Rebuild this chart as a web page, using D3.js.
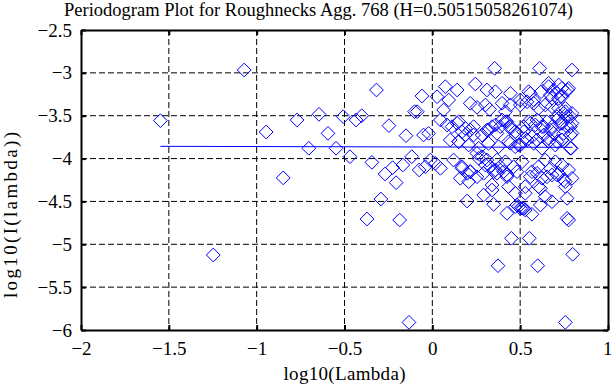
<!DOCTYPE html>
<html>
<head>
<meta charset="utf-8">
<script src="https://cdn.jsdelivr.net/npm/d3@7"></script>
<style>
body{margin:0;background:#fff}
text{font-family:"Liberation Serif","Times New Roman",serif}
</style>
</head>
<body>
<svg id="chart" width="611" height="385"></svg>
<script>
// periodogram points: [log10(lambda), log10(I(lambda))]
var periodogram = [
 [-1.548,-3.558],[-1.247,-5.125],[-1.071,-2.967],[-0.946,-3.690],[-0.849,-4.225],[-0.770,-3.550],[-0.703,-3.880],[-0.645,-3.484],
 [-0.594,-3.706],[-0.548,-3.880],[-0.507,-3.511],[-0.469,-3.978],[-0.434,-3.550],[-0.402,-3.500],[-0.372,-4.705],[-0.344,-4.044],
 [-0.318,-3.200],[-0.293,-4.472],[-0.269,-4.180],[-0.247,-3.616],[-0.226,-4.106],[-0.206,-4.281],[-0.186,-4.717],[-0.168,-4.075],
 [-0.150,-3.733],[-0.133,-5.911],[-0.117,-3.978],[-0.101,-3.453],[-0.086,-3.453],
 [-0.059,-3.270],[-0.050,-3.725],[-0.021,-3.706],[-0.040,-4.095],[-0.011,-4.017],[0.017,-4.056],[0.046,-4.114],[-0.075,-4.133],
 [0.027,-3.278],[0.074,-3.161],[0.093,-3.317],[0.064,-3.433],[0.046,-3.550],[0.084,-3.608],[0.112,-3.628],[0.141,-3.588],
 [0.102,-3.783],[0.150,-3.803],[0.141,-3.200],[0.121,-4.017],[0.169,-4.095],[0.198,-4.172],[0.216,-4.153],
 [0.169,-3.687],[0.188,-3.725],[0.216,-3.667],[0.235,-3.725],
 [0.245,-3.130],[0.311,-3.200],[0.359,-3.220],[0.444,-3.239],[0.548,-3.220],[0.662,-3.122],[0.719,-3.142],[0.770,-3.200],[0.619,-3.220],
 [0.355,-2.947],[0.611,-2.947],[0.795,-2.967],
 [0.216,-3.355],[0.254,-3.402],[0.302,-3.375],[0.326,-3.426],[0.416,-3.453],[0.501,-3.317],[0.577,-3.317],[0.672,-3.258],[0.738,-3.278],[0.757,-3.414],
 [0.311,-3.667],[0.340,-3.628],[0.368,-3.706],[0.397,-3.550],[0.425,-3.570],[0.444,-3.628],
 [0.472,-3.687],[0.520,-3.628],[0.558,-3.589],[0.596,-3.550],[0.634,-3.628],[0.672,-3.667],
 [0.710,-3.511],[0.748,-3.472],[0.786,-3.511],[0.729,-3.589],[0.767,-3.628],[0.795,-3.589],[0.748,-3.706],[0.786,-3.725],
 [0.444,-3.822],[0.472,-3.862],[0.501,-3.842],[0.539,-3.783],[0.567,-3.745],[0.596,-3.783],
 [0.634,-3.725],[0.662,-3.764],[0.691,-3.706],[0.710,-3.803],[0.738,-3.783],[0.790,-3.880],
 [0.254,-3.939],[0.283,-3.978],[0.311,-4.017],[0.330,-4.095],[0.349,-4.153],[0.368,-4.017],[0.387,-4.095],[0.406,-4.153],[0.425,-4.192],
 [0.558,-3.239],[0.662,-3.161],[0.691,-3.200],[0.710,-3.239],[0.738,-3.180],[0.757,-3.220],[0.776,-3.180],[0.681,-3.297],[0.719,-3.297],
 [0.397,-3.355],[0.444,-3.375],[0.501,-3.375],[0.539,-3.337],[0.577,-3.355],[0.605,-3.414],[0.643,-3.375],[0.681,-3.395],[0.719,-3.414],[0.757,-3.453],[0.795,-3.472],
 [0.150,-3.570],[0.188,-3.647],[0.235,-3.628],[0.283,-3.725],[0.320,-3.667],[0.359,-3.608],[0.387,-3.628],[0.416,-3.570],[0.444,-3.647],[0.482,-3.706],
 [0.520,-3.687],[0.548,-3.570],[0.586,-3.608],[0.624,-3.628],[0.653,-3.570],[0.681,-3.628],[0.719,-3.530],[0.738,-3.589],[0.767,-3.511],[0.786,-3.628],[0.795,-3.706],
 [0.150,-3.803],[0.207,-3.842],[0.264,-3.880],[0.320,-3.822],[0.377,-3.862],[0.434,-3.803],[0.491,-3.842],[0.529,-3.764],[0.577,-3.822],[0.624,-3.880],
 [0.662,-3.803],[0.700,-3.842],[0.738,-3.783],[0.786,-3.880],
 [0.169,-4.114],[0.216,-4.153],[0.264,-3.997],[0.302,-4.075],[0.359,-4.133],[0.416,-4.037],[0.463,-4.095],[0.511,-4.037],[0.567,-4.153],[0.605,-4.095],
 [0.643,-4.017],[0.672,-4.114],[0.700,-4.037],[0.738,-4.075],[0.776,-4.133],[0.624,-4.230],[0.681,-4.192],[0.719,-4.172],[0.757,-4.270],[0.207,-4.270],
 [0.340,-4.308],[0.434,-4.328],[0.529,-4.328],[0.605,-4.328],
 [0.159,-4.230],[0.254,-4.212],[0.292,-4.172],[0.368,-4.172],[0.425,-4.212],[0.482,-4.153],[0.558,-4.212],[0.596,-4.172],[0.653,-4.212],[0.710,-4.192],
 [0.748,-4.250],[0.795,-4.230],
 [0.198,-4.495],[0.292,-4.425],[0.340,-4.367],[0.349,-4.534],[0.425,-4.639],[0.472,-4.405],[0.529,-4.405],[0.472,-4.561],[0.501,-4.580],[0.520,-4.580],
 [0.567,-4.650],[0.615,-4.347],[0.643,-4.445],[0.615,-4.542],[0.681,-4.503],[0.767,-4.464],[0.757,-4.328],[0.767,-4.697],[0.776,-4.717],
 [0.491,-4.561],[0.511,-4.580],[0.529,-4.600],[0.482,-4.542],
 [0.450,-4.930],[0.552,-4.930],[0.799,-5.117],[0.374,-5.250],[0.600,-5.250],[0.757,-5.911]
];

// fitted line ends
var fitX = [-1.548, 0.798];
var fitY = [-3.857, -3.869];

var xTicks = [-2, -1.5, -1, -0.5, 0, 0.5, 1];
var yTicks = [-6, -5.5, -5, -4.5, -4, -3.5, -3, -2.5];

var titleText = "Periodogram Plot for Roughnecks Agg. 768 (H=0.50515058261074)";
var xLabel = "log10(Lambda)";
var yLabel = "log10(I(lambda))";

var margin = {top: 30, right: 3, bottom: 55, left: 81};
var W = 611, H = 385;
var w = W - margin.left - margin.right;
var h = H - margin.top - margin.bottom;

var svg = d3.select('#chart');
svg.append('rect').attr('width', W).attr('height', H).attr('fill', '#fff');

var g = svg.append('g').attr('transform', 'translate(' + margin.left + ',' + margin.top + ')');

var x = d3.scaleLinear().domain([-2, 1]).range([0, w]);
var y = d3.scaleLinear().domain([-6, -2.5]).range([h, 0]);

// dashed grid
g.selectAll('.vgrid').data(xTicks.slice(1, -1)).enter().append('line')
  .attr('x1', function(d){ return x(d); }).attr('x2', function(d){ return x(d); })
  .attr('y1', 0).attr('y2', h)
  .attr('stroke', '#000').attr('stroke-width', 1).attr('stroke-dasharray', '6,3');
g.selectAll('.hgrid').data(yTicks.slice(1, -1)).enter().append('line')
  .attr('y1', function(d){ return y(d); }).attr('y2', function(d){ return y(d); })
  .attr('x1', 0).attr('x2', w)
  .attr('stroke', '#000').attr('stroke-width', 1).attr('stroke-dasharray', '6,3');

// diamonds
var sym = d3.symbol().type(d3.symbolDiamond2).size(120);
g.selectAll('.pt').data(periodogram).enter().append('path')
  .attr('d', sym)
  .attr('transform', function(d){ return 'translate(' + x(d[0]) + ',' + y(d[1]) + ')'; })
  .attr('fill', 'none').attr('stroke', '#0000ff').attr('stroke-width', 1);

// fitted line
g.append('line')
  .attr('x1', x(fitX[0])).attr('y1', y(fitY[0]))
  .attr('x2', x(fitX[1])).attr('y2', y(fitY[1]))
  .attr('stroke', '#0000ff').attr('stroke-width', 1);

// axes (ticks point inward)
var fmt = function(d){ return d3.format('')(d).replace('-', '\u2212'); };
var axB = g.append('g').attr('transform', 'translate(0,' + h + ')')
  .call(d3.axisBottom(x).tickValues(xTicks).tickSizeInner(-5).tickSizeOuter(0).tickPadding(12).tickFormat(fmt));
var axL = g.append('g')
  .call(d3.axisLeft(y).tickValues(yTicks).tickSizeInner(-5).tickSizeOuter(0).tickPadding(9).tickFormat(fmt));
var axT = g.append('g')
  .call(d3.axisTop(x).tickValues(xTicks).tickSizeInner(-5).tickSizeOuter(0).tickFormat(''));
var axR = g.append('g').attr('transform', 'translate(' + w + ',0)')
  .call(d3.axisRight(y).tickValues(yTicks).tickSizeInner(-5).tickSizeOuter(0).tickFormat(''));

[axB, axL, axT, axR].forEach(function(a){
  a.selectAll('path').attr('stroke', '#000').attr('stroke-width', 2);
  a.selectAll('line').attr('stroke', '#000').attr('stroke-width', 2);
  a.selectAll('text').attr('fill', '#000').style('font-size', '19px')
    .style('font-family', '"Liberation Serif", serif');
});
// keep the last x tick label inside the window
axB.selectAll('.tick text').filter(function(d){ return d === 1; }).attr('text-anchor', 'end').attr('dx', '4');

// labels
svg.append('text').attr('x', 64).attr('y', 16)
  .style('font-size', '18.5px').attr('fill', '#000').text(titleText);
svg.append('text').attr('x', margin.left + w / 2).attr('y', 380)
  .attr('text-anchor', 'middle').style('font-size', '19px').attr('fill', '#000')
  .attr('textLength', 122).attr('lengthAdjust', 'spacing').text(xLabel);
svg.append('text')
  .attr('transform', 'translate(17,215) rotate(-90)')
  .attr('text-anchor', 'middle').style('font-size', '19px').attr('fill', '#000')
  .attr('textLength', 166).attr('lengthAdjust', 'spacing').text(yLabel);
</script>
</body>
</html>
